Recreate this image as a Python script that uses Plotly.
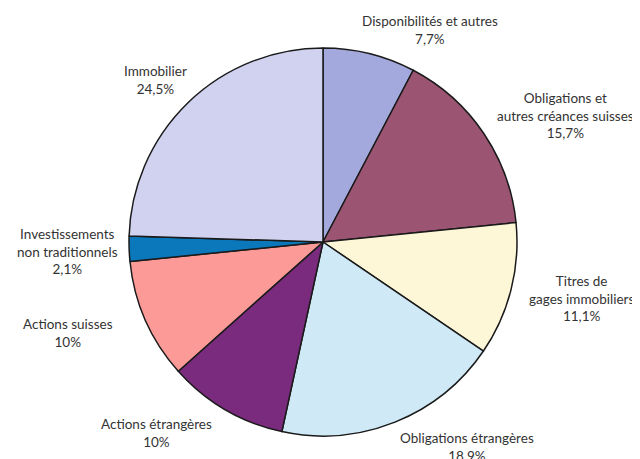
import plotly.graph_objects as go

categories = ["Disponibilités et autres", "Obligations et autres créances suisses",
              "Titres de gages immobiliers", "Obligations étrangères",
              "Actions étrangères", "Actions suisses",
              "Investissements non traditionnels", "Immobilier"]
values = [7.7, 15.7, 11.1, 18.9, 10.0, 10.0, 2.1, 24.5]
value_labels = ["7,7%", "15,7%", "11,1%", "18,9%", "10%", "10%", "2,1%", "24,5%"]
label_texts = ["Disponibilités et autres", "Obligations et<br>autres créances suisses",
               "Titres de<br>gages immobiliers", "Obligations étrangères",
               "Actions étrangères", "Actions suisses",
               "Investissements<br>non traditionnels", "Immobilier"]
colors = ["#a3a9dd", "#9b5573", "#fdf6d7", "#cfeaf6", "#7a2b7d", "#fc9a97", "#0a78bb", "#d0d2f0"]

OFF = 8  # default page body margin
W, H = 640 - OFF, 459 - OFF
cx, cy, r = 323 - OFF, 242 - OFF, 194
label_pos = [(430, 30), (565, 115), (581, 298), (467, 447), (156, 433), (68, 333), (67, 251), (155, 80)]

fig = go.Figure(go.Pie(
    labels=categories, values=values, sort=False, direction="clockwise", rotation=0,
    marker=dict(colors=colors, line=dict(color="#1a1a1a", width=1.5)),
    textinfo="none", hoverinfo="label+percent", showlegend=False,
    domain=dict(x=[(cx - r) / W, (cx + r) / W], y=[1 - (cy + r) / H, 1 - (cy - r) / H]),
))

for txt, val, (x, y) in zip(label_texts, value_labels, label_pos):
    fig.add_annotation(x=(x - OFF) / W, y=1 - (y - OFF) / H, xref="paper", yref="paper",
                       text=f"{txt}<br>{val}", showarrow=False, align="center",
                       xanchor="center", yanchor="middle",
                       font=dict(family="Lato", size=13.5, color="#333333"))

fig.update_layout(width=W, height=H, margin=dict(l=0, r=0, t=0, b=0),
                  paper_bgcolor="white", plot_bgcolor="white")
fig.write_html("out.html")
